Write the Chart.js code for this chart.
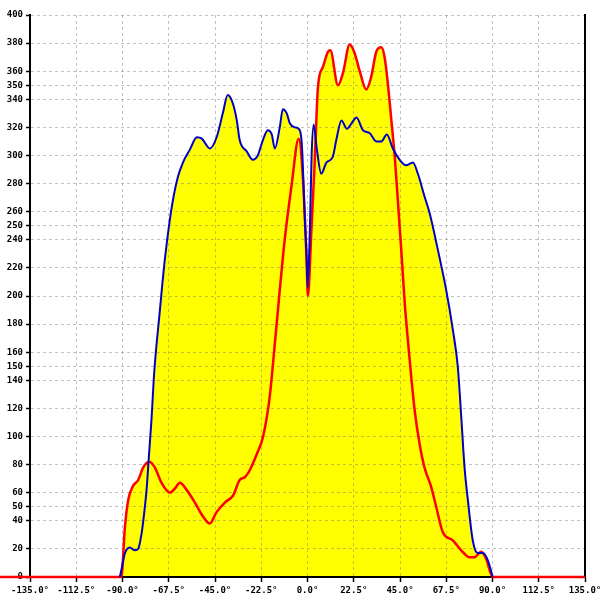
<!DOCTYPE html>
<html>
<head>
<meta charset="utf-8">
<script src="https://cdn.jsdelivr.net/npm/chart.js@4/dist/chart.umd.min.js"></script>
<style>
  html, body { margin: 0; padding: 0; background: #ffffff; }
  #wrap { width: 600px; height: 600px; }
</style>
</head>
<body>
<div id="wrap"><canvas id="c" width="600" height="600"></canvas></div>
<script>
// ---- data ----
const xTicks = [-135, -112.5, -90, -67.5, -45, -22.5, 0, 22.5, 45, 67.5, 90, 112.5, 135];
const xTickLabels = ["-135.0°", "-112.5°", "-90.0°", "-67.5°", "-45.0°", "-22.5°", "0.0°", "22.5°", "45.0°", "67.5°", "90.0°", "112.5°", "135.0°"];
const yTicks = [0, 20, 40, 50, 60, 80, 100, 120, 140, 150, 160, 180, 200, 220, 240, 250, 260, 280, 300, 320, 340, 350, 360, 380, 400];

const blueAngles = [-91.3, -90.4, -88.8, -86.4, -84, -82.4, -80.7, -79.5, -78.3, -77.2, -75.9, -74.6, -71.8, -69.4, -67, -65.5, -63, -60.6, -57.3, -53.8, -51.4, -47.5, -44.2, -41.2, -38.8, -36.3, -34.4, -33, -29.6, -26.6, -24.2, -21.7, -19.3, -17.4, -15.9, -13.5, -12, -10.1, -8.6, -6.2, -4.3, -2.8, -1.4, -0.5, 0.1, 1.2, 2, 3, 4.5, 6.7, 9.2, 12.3, 14, 16.5, 19.2, 21.5, 23.8, 27, 30.2, 33.5, 35.9, 38.6, 41.5, 44.8, 48, 51.3, 53.7, 56.9, 59.4, 63.4, 67.5, 70.7, 73.1, 74.8, 76.4, 78, 80.4, 82.8, 85.3, 87.7, 90.1];
const blueValues = [0, 6, 17, 21, 19, 20, 31, 45, 62, 85, 112, 145, 190, 226, 254, 268, 285, 295, 304, 313, 312, 305, 313, 330, 343, 337, 325, 311, 303, 297, 300, 311, 318, 315, 305, 320, 333, 330, 323, 320, 319, 309, 259, 230, 206, 250, 300, 322, 305, 287, 295, 299, 311, 325, 319, 323, 327, 318, 316, 310, 310, 315, 305, 297, 293, 295, 287, 271, 259, 233, 204, 176, 150, 114, 78, 55, 26, 17, 17, 12, 0];

const redAngles = [-150, -135, -90.6, -88.8, -87.2, -84.8, -82.4, -79.9, -77, -74.3, -71, -67, -64.5, -62.1, -58.8, -54.8, -50.8, -47.5, -44.3, -40.2, -36.2, -33, -30.5, -28.1, -24.8, -21.6, -18.4, -15.9, -13.5, -11.1, -7.8, -4.3, -2.2, -0.5, 0.2, 1.9, 3.5, 5.1, 7.5, 10, 11.1, 14.8, 17.3, 20.5, 22.9, 25.4, 28.6, 31, 33.5, 35.9, 37.5, 39.1, 40.8, 42.4, 44, 45.6, 47.2, 48.8, 50.5, 52.1, 54.5, 56.9, 60.2, 62.6, 65.8, 70.7, 74.8, 78.8, 81.2, 84.5, 86.9, 90.1, 135, 150];
const redValues = [0, 0, 0, 36, 55, 65, 69, 78, 82, 78, 67, 60, 63, 67, 62, 53, 43, 38, 46, 53, 58, 69, 71, 76, 87, 100, 128, 166, 204, 240, 278, 312, 283, 228, 200, 247, 295, 349, 363, 374, 375, 350, 359, 379, 373, 360, 347, 356, 374, 377, 370, 351, 325, 300, 267, 233, 197, 169, 142, 119, 95, 78, 64, 50, 32, 26, 19, 14, 14, 18, 13, 0, 0, 0];

const toPoints = (xs, ys) => xs.map((x, i) => ({ x: x, y: ys[i] }));

const tickFont = { family: "'DejaVu Sans Mono', monospace", size: 9, weight: 'bold' };

new Chart(document.getElementById('c'), {
  type: 'line',
  data: {
    datasets: [
      {
        label: 'blue',
        data: toPoints(blueAngles, blueValues),
        borderColor: '#0000c8',
        borderWidth: 2,
        backgroundColor: '#ffff00',
        fill: 'origin',
        pointRadius: 0,
        cubicInterpolationMode: 'monotone'
      },
      {
        label: 'red',
        data: toPoints(redAngles, redValues),
        borderColor: '#ff0000',
        borderWidth: 2.5,
        backgroundColor: '#ffff00',
        fill: 'origin',
        pointRadius: 0,
        cubicInterpolationMode: 'monotone',
        clip: false
      }
    ]
  },
  options: {
    responsive: false,
    animation: false,
    events: [],
    layout: { padding: { top: 15, left: 0, right: 0, bottom: 0 } },
    plugins: {
      legend: { display: false },
      tooltip: { enabled: false },
      filler: { drawTime: 'beforeDraw' }
    },
    scales: {
      x: {
        type: 'linear',
        min: -135,
        max: 135,
        afterBuildTicks: (s) => { s.ticks = xTicks.map(v => ({ value: v })); },
        afterFit: (s) => { s.height = 23; s.paddingLeft = 0; s.paddingRight = 0; },
        ticks: {
          autoSkip: false,
          maxRotation: 0,
          color: '#000',
          font: tickFont,
          padding: 3,
          callback: (v) => xTickLabels[xTicks.indexOf(v)]
        },
        grid: {
          color: 'rgba(120,120,120,0.45)',
          lineWidth: 1,
          tickColor: '#000',
          tickLength: 5,
          tickWidth: 1.5
        },
        border: { display: true, color: '#000', width: 2, dash: [3, 3] }
      },
      y: {
        type: 'linear',
        min: 0,
        max: 400,
        afterBuildTicks: (s) => { s.ticks = yTicks.map(v => ({ value: v })); },
        afterFit: (s) => { s.width = 30; s.paddingTop = 0; s.paddingBottom = 0; },
        ticks: {
          autoSkip: false,
          color: '#000',
          font: tickFont,
          padding: 3
        },
        grid: {
          color: 'rgba(120,120,120,0.45)',
          lineWidth: 1,
          tickColor: '#000',
          tickLength: 4,
          tickWidth: 1.5
        },
        border: { display: true, color: '#000', width: 2, dash: [3, 3] }
      },
      y2: {
        type: 'linear',
        position: 'right',
        min: 0,
        max: 400,
        afterFit: (s) => { s.width = 15; s.paddingTop = 0; s.paddingBottom = 0; },
        ticks: { display: false },
        grid: { display: false, drawTicks: false },
        border: { display: true, color: '#000', width: 2 }
      }
    }
  }
});
</script>
</body>
</html>
